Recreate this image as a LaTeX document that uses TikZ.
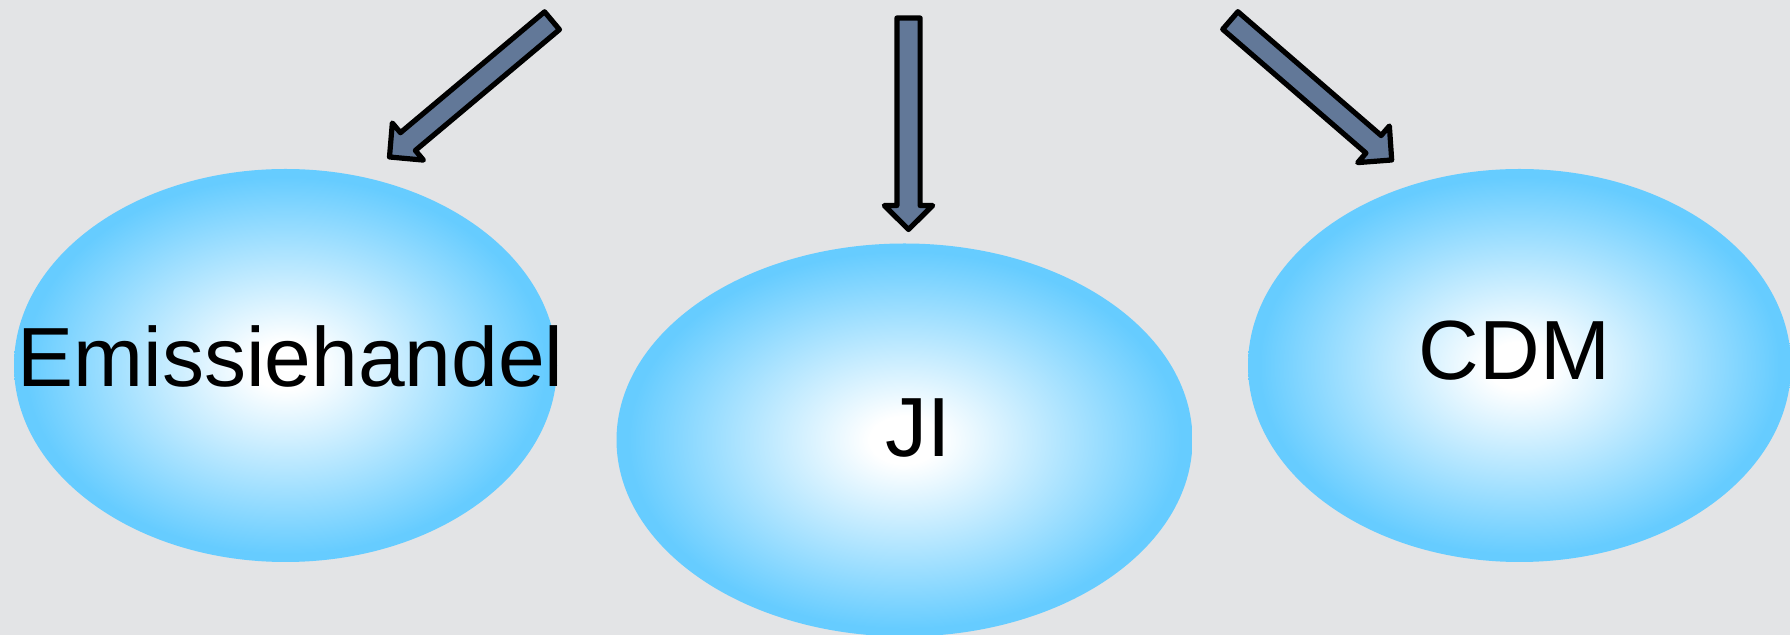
\documentclass[tikz,border=0pt]{standalone}
\usepackage{fontspec}
\setmainfont{Liberation Sans}
\usetikzlibrary{calc,shapes.geometric}
\definecolor{bgc}{RGB}{227,228,230}
\definecolor{sky}{RGB}{102,204,255}
\definecolor{slate}{RGB}{98,120,152}
\pgfdeclareradialshading{ballshade}{\pgfpoint{0bp}{0bp}}{color(0bp)=(white); color(3bp)=(white); color(24bp)=(sky); color(50bp)=(sky)}
\newcommand\blockarrow[2]{%
  \coordinate (hb) at ($(#2)!12pt!(#1)$);
  \draw[barrow] ($(#1)!5.8pt!90:(#2)$) -- ($(hb)!5.8pt!90:(#2)$) -- ($(hb)!12.1pt!90:(#2)$) -- (#2) -- ($(hb)!12.1pt!-90:(#2)$) -- ($(hb)!5.8pt!-90:(#2)$) -- ($(#1)!5.8pt!-90:(#2)$) -- cycle;}
\tikzset{
  ball/.style 2 args={ellipse, shading=ballshade, draw=none, inner sep=0pt, outer sep=0pt, minimum width=#1, minimum height=#2},
  lbl/.style={inner sep=0pt, outer sep=0pt, anchor=base, font=\fontsize{42}{50}\selectfont, text=black},
  barrow/.style={draw=black, fill=slate, line width=2.6pt, line join=round}
}
\begin{document}
\begin{tikzpicture}[x=0.5pt, y=-0.5pt]
  \fill[bgc] (0,0) rectangle (1790,635);
  \useasboundingbox (0,0) rectangle (1790,635);
  % ellipses
  \node[ball={271.5pt}{196.5pt}] (eh) at (285.5,365.5) {};
  \node[ball={288pt}{196.5pt}] (ji) at (904.5,440) {};
  \node[ball={271.5pt}{196.5pt}] (cdm) at (1519.5,365.5) {};
  % labels
  \node[lbl] (teh) at (290.5,387) {Emissiehandel};
  \node[lbl] (tji) at (918,456.6) {JI};
  \node[lbl] (tcdm) at (1514.5,380) {CDM};
  % arrows
  \coordinate (t1) at (552,20.7);
  \coordinate (h1) at (389.5,157);
  \coordinate (t2) at (908.5,18);
  \coordinate (h2) at (908.5,229.5);
  \coordinate (t3) at (1230.3,20.5);
  \coordinate (h3) at (1391.7,160);
  \blockarrow{t1}{h1}
  \blockarrow{t2}{h2}
  \blockarrow{t3}{h3}
\end{tikzpicture}
\end{document}
